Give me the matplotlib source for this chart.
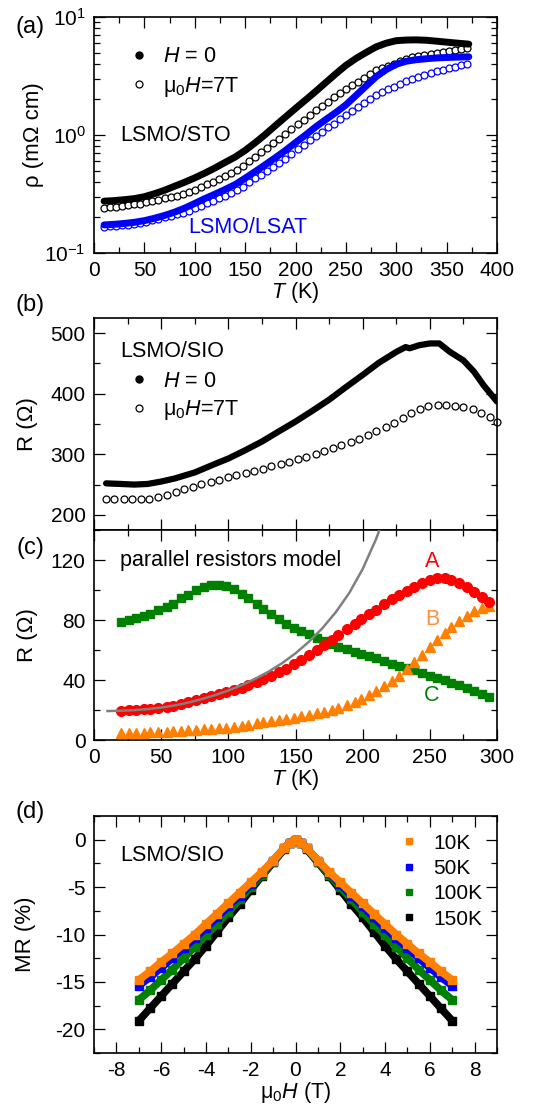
import numpy as np
import matplotlib
matplotlib.use("Agg")
import matplotlib.pyplot as plt
from matplotlib.lines import Line2D
from matplotlib.ticker import MultipleLocator, LogLocator, NullFormatter

plt.rcParams['font.family'] = ['Liberation Sans', 'DejaVu Sans']
plt.rcParams['mathtext.fontset'] = 'custom'
plt.rcParams['mathtext.rm'] = 'Liberation Sans'
plt.rcParams['mathtext.it'] = 'Liberation Sans:italic'
plt.rcParams['mathtext.bf'] = 'Liberation Sans:bold'
plt.rcParams['axes.unicode_minus'] = False

# ---- (a) resistivity, LSMO/STO and LSMO/LSAT ----
T_a_line = [10, 20, 30, 40, 50, 60, 70, 80, 90, 100, 110, 120, 130, 140, 150, 160, 170, 180,
            190, 200, 210, 220, 230, 240, 250, 260, 270, 280, 290, 300, 310, 320, 330, 340,
            350, 360, 372]
sto_H0 = [0.275, 0.278, 0.283, 0.289, 0.300, 0.318, 0.340, 0.368, 0.398, 0.433, 0.475, 0.525,
          0.585, 0.650, 0.740, 0.860, 1.01, 1.20, 1.42, 1.68, 1.98, 2.34, 2.78, 3.30, 3.89,
          4.45, 5.00, 5.58, 6.00, 6.30, 6.38, 6.40, 6.35, 6.24, 6.12, 6.01, 5.89]
lsat_H0 = [0.173, 0.175, 0.178, 0.182, 0.188, 0.197, 0.208, 0.222, 0.240, 0.263, 0.289, 0.315,
           0.345, 0.380, 0.430, 0.490, 0.560, 0.642, 0.740, 0.862, 1.00, 1.17, 1.35, 1.55,
           1.80, 2.16, 2.60, 3.12, 3.58, 3.98, 4.22, 4.35, 4.43, 4.50, 4.54, 4.57, 4.60]

T_a_pts = [10, 16, 22, 28, 34, 40, 46, 52, 58, 64, 70, 76, 82, 88, 94, 100, 106, 112, 118, 124,
           130, 136, 142, 148, 154, 160, 166, 172, 178, 184, 190, 196, 202, 208, 214, 220, 226,
           232, 238, 244, 250, 256, 262, 268, 274, 280, 286, 292, 298, 304, 310, 316, 322, 328,
           334, 340, 346, 352, 358, 364, 370]
sto_7T = [0.240, 0.243, 0.247, 0.251, 0.254, 0.258, 0.262, 0.269, 0.276, 0.283, 0.291, 0.299,
          0.306, 0.314, 0.326, 0.344, 0.362, 0.382, 0.403, 0.425, 0.448, 0.473, 0.505, 0.551,
          0.601, 0.656, 0.716, 0.782, 0.853, 0.931, 1.02, 1.12, 1.23, 1.35, 1.48, 1.62, 1.76,
          1.92, 2.08, 2.27, 2.46, 2.64, 2.84, 3.06, 3.30, 3.55, 3.70, 3.87, 4.03, 4.21, 4.40,
          4.54, 4.65, 4.76, 4.88, 5.00, 5.10, 5.18, 5.27, 5.35, 5.43]
lsat_7T = [0.167, 0.169, 0.170, 0.172, 0.173, 0.175, 0.178, 0.183, 0.189, 0.195, 0.200, 0.207,
           0.213, 0.219, 0.228, 0.239, 0.251, 0.264, 0.277, 0.290, 0.305, 0.321, 0.340, 0.366,
           0.396, 0.428, 0.461, 0.498, 0.538, 0.581, 0.632, 0.693, 0.759, 0.830, 0.910, 0.989,
           1.07, 1.16, 1.25, 1.36, 1.47, 1.59, 1.72, 1.86, 2.02, 2.18, 2.31, 2.44, 2.57, 2.72,
           2.87, 3.00, 3.10, 3.22, 3.34, 3.46, 3.58, 3.68, 3.78, 3.89, 4.01]

# ---- (b) LSMO/SIO resistance ----
T_b_line = [9, 20, 30, 40, 50, 60, 75, 90, 100, 112, 125, 137, 150, 162, 175, 187, 200, 212,
            225, 232, 235, 242, 250, 257, 265, 275, 283, 290, 300]
sio_H0 = [252, 251, 250, 251, 255, 260, 270, 284, 293, 306, 321, 337, 354, 371, 390, 410, 431,
          451, 469, 477, 475, 480, 483, 483, 469, 455, 436, 414, 387]
T_b_pts = [9, 15, 22, 28, 35, 41, 48, 54, 61, 67, 74, 80, 87, 93, 100, 106, 113, 119, 126, 132,
           139, 145, 152, 158, 165, 171, 178, 184, 191, 197, 204, 210, 217, 223, 230, 236, 243,
           249, 256, 262, 269, 275, 282, 288, 295, 300]
sio_7T = [226, 226, 226, 226, 226, 227, 229, 233, 238, 242, 246, 251, 255, 258, 262, 265, 269,
          272, 276, 280, 284, 288, 292, 296, 301, 305, 310, 315, 321, 326, 332, 338, 345, 352,
          360, 368, 375, 380, 381, 381, 380, 378, 374, 368, 361, 354]

# ---- (c) parallel resistors model ----
T_c = [20, 26, 31, 37, 42, 48, 54, 59, 65, 70, 76, 82, 87, 93, 98, 104, 110, 115, 121, 126, 132,
       138, 143, 149, 154, 160, 166, 171, 177, 182, 188, 194, 199, 205, 210, 216, 222, 227, 233,
       238, 244, 250, 255, 261, 266, 272, 278, 283, 289, 294]
R_A = [19.5, 19.7, 20.0, 20.4, 20.9, 21.5, 22.2, 23.0, 24.0, 25.2, 26.6, 28.0, 29.3, 30.6, 31.8,
       33.3, 35.0, 36.6, 38.5, 40.4, 42.7, 45.2, 47.6, 50.5, 53.2, 56.5, 60.0, 63.2, 66.5, 70.0,
       73.8, 77.5, 80.8, 84.0, 87.0, 90.5, 93.8, 96.8, 99.5, 102.0, 104.5, 106.5, 107.8, 108.0,
       107.0, 105.0, 102.0, 99.0, 95.5, 92.0]
R_B = [4.5, 4.6, 4.8, 5.0, 5.2, 5.4, 5.6, 5.9, 6.1, 6.4, 6.7, 7.1, 7.5, 7.9, 8.3, 8.9, 9.6, 10.3,
       11.1, 11.8, 12.6, 13.3, 14.0, 14.8, 16.0, 17.0, 18.0, 19.0, 20.2, 21.6, 23.3, 25.2, 27.3,
       29.8, 32.5, 35.8, 39.5, 43.0, 47.5, 52.0, 57.0, 62.0, 66.5, 71.5, 75.5, 79.5, 83.0, 85.8,
       88.0, 89.6]
R_C = [79.0, 80.0, 81.2, 82.5, 84.0, 86.5, 88.5, 91.0, 94.5, 97.0, 100.0, 102.0, 103.5, 103.5,
       102.5, 100.5, 97.5, 94.5, 91.0, 87.5, 84.0, 80.5, 77.5, 74.5, 72.5, 70.5, 68.0, 66.0, 64.0,
       62.0, 60.5, 59.0, 57.5, 56.0, 54.5, 53.0, 51.0, 49.5, 48.0, 46.5, 44.5, 43.0, 41.5, 40.0,
       38.0, 36.5, 34.5, 33.0, 31.0, 29.0]
T_fit = [10, 20, 30, 40, 50, 60, 70, 80, 90, 100, 110, 120, 130, 140, 150, 160, 170, 180, 190,
         200, 210, 215]
R_fit = [19.3, 19.5, 19.9, 20.6, 21.6, 23.0, 24.9, 27.2, 29.9, 33.0, 36.6, 40.8, 45.6, 51.2,
         57.8, 65.5, 74.5, 85.2, 98.0, 114.0, 134.0, 146.0]

# ---- (d) magnetoresistance ----
H_d = [-7, -6.5, -6, -5.5, -5, -4.5, -4, -3.5, -3, -2.5, -2, -1.5, -1, -0.5, -0.25, 0,
       0.25, 0.5, 1, 1.5, 2, 2.5, 3, 3.5, 4, 4.5, 5, 5.5, 6, 6.5, 7]
MR_10K = [-14.8, -13.9, -12.9, -12.0, -11.0, -10.0, -8.9, -7.8, -6.7, -5.6, -4.5, -3.4, -2.2,
          -0.9, -0.3, 0, -0.3, -0.9, -2.2, -3.4, -4.5, -5.6, -6.7, -7.8, -8.9, -10.0, -11.0,
          -12.0, -12.9, -13.9, -14.8]
MR_50K = [-15.4, -14.5, -13.5, -12.5, -11.4, -10.4, -9.3, -8.2, -7.0, -5.9, -4.7, -3.5, -2.2,
          -0.9, -0.3, 0, -0.3, -0.9, -2.2, -3.5, -4.7, -5.9, -7.0, -8.2, -9.3, -10.4, -11.4,
          -12.5, -13.5, -14.5, -15.4]
MR_100K = [-16.9, -15.9, -14.8, -13.7, -12.5, -11.3, -10.1, -8.9, -7.6, -6.3, -5.0, -3.7, -2.3,
           -0.9, -0.3, 0, -0.3, -0.9, -2.3, -3.7, -5.0, -6.3, -7.6, -8.9, -10.1, -11.3, -12.5,
           -13.7, -14.8, -15.9, -16.9]
MR_150K = [-19.1, -17.8, -16.5, -15.2, -13.9, -12.6, -11.2, -9.7, -8.2, -6.8, -5.3, -3.8, -2.4,
           -1.0, -0.3, 0, -0.3, -1.0, -2.4, -3.8, -5.3, -6.8, -8.2, -9.7, -11.2, -12.6, -13.9,
           -15.2, -16.5, -17.8, -19.1]
mr_labels = ["10K", "50K", "100K", "150K"]
mr_colors = ["#ff8000", "#0000ff", "#008000", "#000000"]

FS_TICK = 15
FS_TXT = 15.5


def style(ax):
    ax.tick_params(which="both", direction="in", top=True, right=True, labelsize=FS_TICK,
                   width=0.9, pad=6)
    ax.tick_params(which="major", length=8)
    ax.tick_params(which="minor", length=4.5)
    for s in ax.spines.values():
        s.set_linewidth(1.2)


fig = plt.figure(figsize=(5.44, 11.13), dpi=100)
L, W = 94 / 544, 403 / 544
ax_a = fig.add_axes([L, 1 - 253 / 1113, W, 236 / 1113])
ax_b = fig.add_axes([L, 1 - 530 / 1113, W, 212 / 1113])
ax_c = fig.add_axes([L, 1 - 740 / 1113, W, 210 / 1113])
ax_d = fig.add_axes([L, 1 - 1053 / 1113, W, 237 / 1113])

# (a)
ax = ax_a
ax.plot(T_a_line, sto_H0, color="k", lw=5, solid_capstyle="round", zorder=3)
ax.plot(T_a_pts, sto_7T, ls="none", marker="o", ms=5, mfc="white", mec="k", mew=0.9, zorder=2)
ax.plot(T_a_line, lsat_H0, color="#0000ff", lw=5, solid_capstyle="round", zorder=3)
ax.plot(T_a_pts, lsat_7T, ls="none", marker="o", ms=5, mfc="white", mec="#0000ff", mew=0.9,
        zorder=2)
ax.set_yscale("log")
ax.set_xlim(0, 400)
ax.set_ylim(0.1, 10)
ax.xaxis.set_major_locator(MultipleLocator(50))
ax.xaxis.set_minor_locator(MultipleLocator(25))
ax.yaxis.set_minor_locator(LogLocator(base=10, subs=np.arange(2, 10)))
ax.yaxis.set_minor_formatter(NullFormatter())
style(ax)
ax.set_xlabel("$T$ (K)", fontsize=FS_TXT, labelpad=0)
ax.set_ylabel("ρ (mΩ cm)", fontsize=FS_TXT + 0.5)
ax.yaxis.set_label_coords(-0.125, 0.5)
ax.text(0.064, 0.496, "LSMO/STO", transform=ax.transAxes, fontsize=FS_TXT, va="center")
ax.text(0.233, 0.11, "LSMO/LSAT", transform=ax.transAxes, fontsize=FS_TXT, va="center",
        color="#0000ff")
h = [Line2D([], [], ls="none", marker="o", ms=5, color="k"),
     Line2D([], [], ls="none", marker="o", ms=5, mfc="white", mec="k", mew=0.9)]
ax.legend(h, ["$H$ = 0", "μ$_0$$H$=7T"], loc="upper left", bbox_to_anchor=(0.085, 0.875),
          frameon=False, fontsize=FS_TXT, handlelength=1.0, handletextpad=0.6,
          borderpad=0, borderaxespad=0, labelspacing=0.35)

# (b)
ax = ax_b
ax.plot(T_b_line, sio_H0, color="k", lw=4.5, solid_capstyle="round", zorder=3)
ax.plot(T_b_pts, sio_7T, ls="none", marker="o", ms=5, mfc="white", mec="k", mew=0.9,
        clip_on=False, zorder=2)
ax.set_xlim(0, 300)
ax.set_ylim(175, 525)
ax.xaxis.set_major_locator(MultipleLocator(50))
ax.xaxis.set_minor_locator(MultipleLocator(25))
ax.yaxis.set_major_locator(MultipleLocator(100))
ax.yaxis.set_minor_locator(MultipleLocator(50))
style(ax)
ax.tick_params(labelbottom=False)
ax.set_ylabel("R (Ω)", fontsize=FS_TXT + 0.5)
ax.yaxis.set_label_coords(-0.14, 0.5)
ax.text(0.064, 0.84, "LSMO/SIO", transform=ax.transAxes, fontsize=FS_TXT, va="center")
ax.legend(h, ["$H$ = 0", "μ$_0$$H$=7T"], loc="upper left", bbox_to_anchor=(0.085, 0.75),
          frameon=False, fontsize=FS_TXT, handlelength=1.0, handletextpad=0.6,
          borderpad=0, borderaxespad=0, labelspacing=0.3)

# (c)
ax = ax_c
ax.plot(T_fit, R_fit, color="#808080", lw=1.8, zorder=4)
ax.plot(T_c, R_C, ls="none", marker="s", ms=6, color="#008000", zorder=3)
ax.plot(T_c, R_B, ls="none", marker="^", ms=7.5, color="#ff8000", zorder=3)
ax.plot(T_c, R_A, ls="none", marker="o", ms=7, color="#ff0000", zorder=3)
ax.set_xlim(0, 300)
ax.set_ylim(0, 140)
ax.xaxis.set_major_locator(MultipleLocator(50))
ax.xaxis.set_minor_locator(MultipleLocator(25))
ax.yaxis.set_major_locator(MultipleLocator(40))
ax.yaxis.set_minor_locator(MultipleLocator(20))
style(ax)
ax.set_xlabel("$T$ (K)", fontsize=FS_TXT, labelpad=0)
ax.set_ylabel("R (Ω)", fontsize=FS_TXT + 0.5)
ax.yaxis.set_label_coords(-0.14, 0.5)
ax.text(0.064, 0.857, "parallel resistors model", transform=ax.transAxes, fontsize=FS_TXT,
        va="center")
ax.text(0.839, 0.852, "A", transform=ax.transAxes, fontsize=FS_TXT, va="center", ha="center",
        color="#ff0000")
ax.text(0.839, 0.576, "B", transform=ax.transAxes, fontsize=FS_TXT, va="center", ha="center",
        color="#ff9040")
ax.text(0.839, 0.214, "C", transform=ax.transAxes, fontsize=FS_TXT, va="center", ha="center",
        color="#008000")

# (d)
ax = ax_d
mr_series = [MR_10K, MR_50K, MR_100K, MR_150K]
for mr, c, lab in list(zip(mr_series, mr_colors, mr_labels))[::-1]:
    ax.plot(H_d, mr, color=c, lw=5.5, marker="s", ms=5.5, solid_capstyle="butt", label=lab)
ax.set_xlim(-9, 9)
ax.set_ylim(-22.5, 2.5)
ax.xaxis.set_major_locator(MultipleLocator(2))
ax.xaxis.set_minor_locator(MultipleLocator(1))
ax.yaxis.set_major_locator(MultipleLocator(5))
ax.yaxis.set_minor_locator(MultipleLocator(2.5))
style(ax)
ax.set_xlabel("μ$_0$$H$ (T)", fontsize=FS_TXT, labelpad=0)
ax.set_ylabel("MR (%)", fontsize=FS_TXT + 0.5)
ax.yaxis.set_label_coords(-0.145, 0.5)
ax.text(0.064, 0.835, "LSMO/SIO", transform=ax.transAxes, fontsize=FS_TXT, va="center")
hd = [Line2D([], [], ls="none", marker="s", ms=4, color=c) for c in mr_colors]
ax.legend(hd, mr_labels, loc="upper left", bbox_to_anchor=(0.76, 0.925), frameon=False,
          fontsize=FS_TXT - 0.5, handlelength=0.8, handletextpad=0.8, borderpad=0,
          borderaxespad=0, labelspacing=0.3)

for lab, y in [("(a)", 27), ("(b)", 305), ("(c)", 548), ("(d)", 812)]:
    fig.text(30 / 544, 1 - y / 1113, lab, fontsize=FS_TXT + 1.5, ha="center", va="center")

fig.savefig("out.png", dpi=100)
